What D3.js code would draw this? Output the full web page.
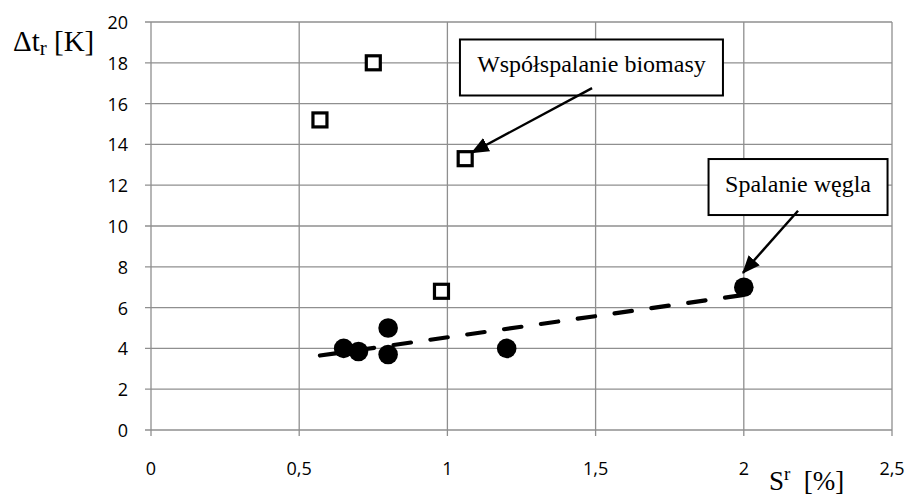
<!DOCTYPE html>
<html>
<head>
<meta charset="utf-8">
<script src="https://cdn.jsdelivr.net/npm/d3@7"></script>
<style>
  html, body { margin: 0; padding: 0; background: #fff; }
  svg { display: block; }
  .tick-label { font-family: "Open Sans", sans-serif; font-size: 18px; fill: #000; }
  .serif { font-family: "Liberation Serif", "Times New Roman", serif; fill: #000; }
</style>
</head>
<body>
<svg id="chart" width="909" height="497"></svg>
<script>
// Axis ticks
const xTicks = [0, 0.5, 1, 1.5, 2, 2.5];
const yTicks = [0, 2, 4, 6, 8, 10, 12, 14, 16, 18, 20];

// Co-firing with biomass (open squares)
const biomassS = [0.57, 0.75, 1.06, 0.98];
const biomassDt = [15.2, 18.0, 13.3, 6.8];

// Coal combustion (filled circles)
const coalS = [0.65, 0.70, 0.80, 0.80, 1.20, 2.00];
const coalDt = [4.0, 3.85, 5.0, 3.7, 4.0, 7.0];

// Trend line for coal combustion (end points)
const trendS = [0.57, 2.00];
const trendDt = [3.65, 6.62];

// Callout labels: box centre, arrow start and arrow tip in data units
const calloutText = ["Współspalanie biomasy", "Spalanie węgla"];
const calloutBox = [[1.486, 17.77], [2.183, 11.91]];
const calloutFrom = [[1.488, 16.76], [2.183, 10.75]];
const calloutTo = [[1.082, 13.59], [1.997, 7.70]];

const svg = d3.select("#chart");
const margin = { left: 151, right: 17, top: 22, bottom: 67 };
const W = 909, H = 497;

const x = d3.scaleLinear().domain([0, 2.5]).range([margin.left, W - margin.right]);
const y = d3.scaleLinear().domain([0, 20]).range([H - margin.bottom, margin.top]);
const fmt = d => String(d).replace(".", ",");

// Grid
const grid = svg.append("g").attr("stroke", "#8f8f8f").attr("stroke-width", 1.3);
grid.selectAll("line.h").data(yTicks).join("line")
  .attr("x1", x(0) - 6).attr("x2", x(2.5))
  .attr("y1", d => y(d)).attr("y2", d => y(d));
grid.selectAll("line.v").data(xTicks).join("line")
  .attr("y1", y(0) + 6).attr("y2", y(20))
  .attr("x1", d => x(d)).attr("x2", d => x(d));

// Tick labels
svg.append("g").selectAll("text").data(yTicks).join("text")
  .attr("class", "tick-label")
  .attr("x", x(0) - 23).attr("y", d => y(d))
  .attr("text-anchor", "end").attr("dominant-baseline", "central")
  .text(fmt);
svg.append("g").selectAll("text").data(xTicks).join("text")
  .attr("class", "tick-label")
  .attr("x", d => x(d)).attr("y", y(0) + 38)
  .attr("text-anchor", "middle").attr("dominant-baseline", "central")
  .text(fmt);

// Trend line
svg.append("path")
  .datum(trendS.map((s, i) => [s, trendDt[i]]))
  .attr("fill", "none").attr("stroke", "#000").attr("stroke-width", 4.2)
  .attr("stroke-dasharray", "17.5,19.7").attr("stroke-linecap", "round")
  .attr("d", d3.line().x(d => x(d[0])).y(d => y(d[1])));

// Coal points
svg.append("g").selectAll("circle").data(coalS.map((s, i) => [s, coalDt[i]])).join("circle")
  .attr("cx", d => x(d[0])).attr("cy", d => y(d[1])).attr("r", 9.8).attr("fill", "#000");

// Biomass points
const sq = 14;
svg.append("g").selectAll("rect").data(biomassS.map((s, i) => [s, biomassDt[i]])).join("rect")
  .attr("x", d => x(d[0]) - sq / 2).attr("y", d => y(d[1]) - sq / 2)
  .attr("width", sq).attr("height", sq)
  .attr("fill", "#fff").attr("stroke", "#000").attr("stroke-width", 3.2);

// Arrow head
svg.append("defs").append("marker")
  .attr("id", "head").attr("markerUnits", "userSpaceOnUse")
  .attr("viewBox", "0 -8 18 16").attr("refX", 17).attr("refY", 0)
  .attr("markerWidth", 18).attr("markerHeight", 16).attr("orient", "auto")
  .append("path").attr("d", "M0,-7.5L18,0L0,7.5Z").attr("fill", "#000");

// Callouts
const boxSize = [[263, 56], [179, 56]];
calloutText.forEach((t, i) => {
  const cx = x(calloutBox[i][0]), cy = y(calloutBox[i][1]);
  const [bw, bh] = boxSize[i];
  svg.append("rect")
    .attr("x", cx - bw / 2).attr("y", cy - bh / 2).attr("width", bw).attr("height", bh)
    .attr("fill", "#fff").attr("stroke", "#000").attr("stroke-width", 2);
  svg.append("text").attr("class", "serif")
    .attr("x", cx).attr("y", cy - bh / 2 + 32.5)
    .attr("text-anchor", "middle").attr("font-size", 24)
    .text(t);
  svg.append("line")
    .attr("x1", x(calloutFrom[i][0])).attr("y1", y(calloutFrom[i][1]))
    .attr("x2", x(calloutTo[i][0])).attr("y2", y(calloutTo[i][1]))
    .attr("stroke", "#000").attr("stroke-width", 2.4)
    .attr("marker-end", "url(#head)");
});

// Axis titles
const yTitle = svg.append("text").attr("class", "serif").attr("x", 13).attr("y", 51).attr("font-size", 29);
yTitle.append("tspan").text("Δt");
yTitle.append("tspan").attr("font-size", 21).attr("dy", 4).text("r");
yTitle.append("tspan").attr("dy", -4).text(" [K]");

const xTitle = svg.append("text").attr("class", "serif").attr("x", 769).attr("y", 490).attr("font-size", 27);
xTitle.append("tspan").text("S");
xTitle.append("tspan").attr("font-size", 19).attr("dy", -10).text("r");
xTitle.append("tspan").attr("dy", 10).attr("xml:space", "preserve").text("  [%]");
</script>
</body>
</html>
